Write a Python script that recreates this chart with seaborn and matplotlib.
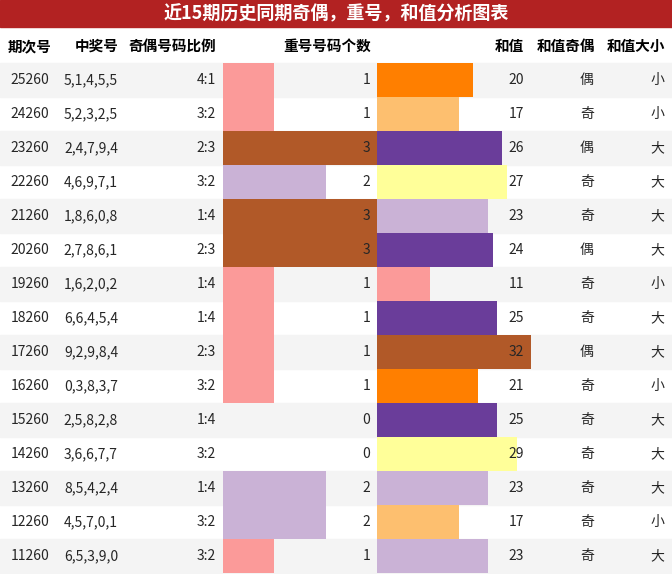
import matplotlib
matplotlib.use("Agg")
import matplotlib.pyplot as plt
import seaborn as sns
import pandas as pd

sns.set_theme(style="white")
plt.rcParams['font.family'] = ['Noto Sans CJK SC', 'DejaVu Sans']

periods = ["25260","24260","23260","22260","21260","20260","19260","18260","17260","16260","15260","14260","13260","12260","11260"]
numbers = ["5,1,4,5,5","5,2,3,2,5","2,4,7,9,4","4,6,9,7,1","1,8,6,0,8","2,7,8,6,1","1,6,2,0,2","6,6,4,5,4","9,2,9,8,4","0,3,8,3,7","2,5,8,2,8","3,6,6,7,7","8,5,4,2,4","4,5,7,0,1","6,5,3,9,0"]
ratios = ["4:1","3:2","2:3","3:2","1:4","2:3","1:4","1:4","2:3","3:2","1:4","3:2","1:4","3:2","3:2"]
repeats = [1,1,3,2,3,3,1,1,1,1,0,0,2,2,1]
sums = [20,17,26,27,23,24,11,25,32,21,25,29,23,17,23]
sum_parity = ["偶","奇","偶","奇","奇","偶","奇","奇","偶","奇","奇","奇","奇","奇","奇"]
sum_size = ["小","小","大","大","大","大","小","大","大","小","大","大","大","小","大"]
rep_colors = {0: "#ffffff", 1: "#fb9a99", 2: "#cab2d6", 3: "#b15928"}
sum_colors = ["#ff7f00","#fdbf6f","#6a3d9a","#ffff99","#cab2d6","#6a3d9a","#fb9a99","#6a3d9a","#b15928","#ff7f00","#6a3d9a","#ffff99","#cab2d6","#fdbf6f","#cab2d6"]

W, H = 672, 574
fig = plt.figure(figsize=(W/100, H/100), dpi=100)
ax = fig.add_axes([0, 0, 1, 1])
ax.set_xlim(0, W); ax.set_ylim(H, 0); ax.axis("off")

top, rh = 63, 34
n = len(periods)
# title
ax.add_patch(plt.Rectangle((0, 0), W, 27, color="#b22222"))
ax.text(W/2, 14, "近15期历史同期奇偶，重号，和值分析图表", color="white", fontsize=13, fontweight="bold", ha="center", va="center")
# headers
hy = 46
for x, t, ha in [(30,"期次号","center"),(97,"中奖号","center"),(216,"奇偶号码比例","right"),(371,"重号号码个数","right"),(524,"和值","right"),(566,"和值奇偶","center"),(636,"和值大小","center")]:
    ax.text(x, hy, t, fontsize=10.5, fontweight="bold", ha=ha, va="center", color="black")
for i in range(n):
    y0 = top + i*rh
    if i % 2 == 0:
        ax.add_patch(plt.Rectangle((0, y0), W, rh, color="#f4f4f4", zorder=0))
    yc = y0 + rh/2
    ax.text(30, yc, periods[i], fontsize=10, ha="center", va="center")
    ax.text(91, yc, numbers[i], fontsize=10, ha="center", va="center")
    ax.text(216, yc, ratios[i], fontsize=10, ha="right", va="center")
    ax.text(370, yc, str(repeats[i]), fontsize=10, ha="right", va="center")
    ax.text(524, yc, str(sums[i]), fontsize=10, ha="right", va="center")
    ax.text(587, yc, sum_parity[i], fontsize=10, ha="center", va="center")
    ax.text(657, yc, sum_size[i], fontsize=10, ha="center", va="center")

df = pd.DataFrame({"row": [str(i) for i in range(n)], "rep": repeats, "sum": sums})
yb, hb = 1 - (top + n*rh)/H, n*rh/H

axr = fig.add_axes([223/W, yb, 154/W, hb])
sns.barplot(data=df, x="rep", y="row", hue="row", palette=[rep_colors[r] for r in repeats], legend=False, width=1.0, orient="h", ax=axr, saturation=1)
axr.set_xlim(0, 3)
axs = fig.add_axes([377/W, yb, 154/W, hb])
sns.barplot(data=df, x="sum", y="row", hue="row", palette=sum_colors, legend=False, width=1.0, orient="h", ax=axs, saturation=1)
axs.set_xlim(0, 32)
for a in (axr, axs):
    a.patch.set_alpha(0)
    a.axis("off")
    a.set_ylim(n-0.5, -0.5)
    for p in a.patches:
        p.set_edgecolor("none")
# redraw text on top of bars
for a in (axr, axs):
    a.set_zorder(0)
ax.set_zorder(1); ax.patch.set_alpha(0)
bg = fig.add_axes([0, 0, 1, 1], zorder=-1); bg.set_xlim(0, W); bg.set_ylim(H, 0); bg.axis("off")
for p in list(ax.patches):
    if p.get_zorder() == 0:
        p.remove()
        bg.add_patch(plt.Rectangle(p.get_xy(), p.get_width(), p.get_height(), color="#f4f4f4"))
fig.savefig("out.png", dpi=100)
